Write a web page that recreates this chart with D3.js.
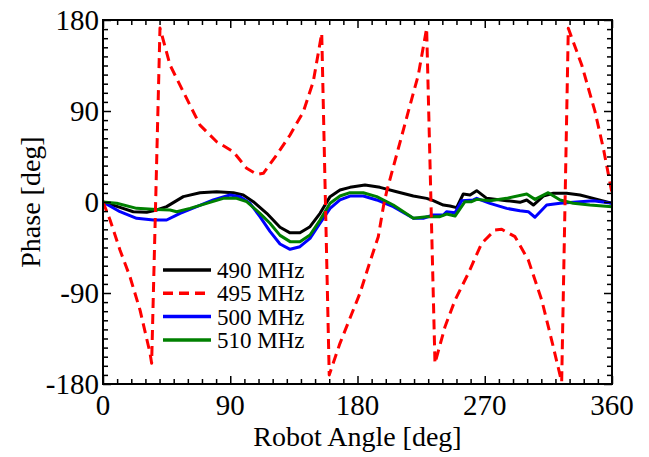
<!DOCTYPE html>
<html>
<head>
<meta charset="utf-8">
<script src="https://cdn.jsdelivr.net/npm/d3@7"></script>
<style>
  body { margin: 0; background: #fff; }
  svg { display: block; }
</style>
</head>
<body>
<div id="chart"></div>
<script>
// [angle, phase] pairs
const data490 = [[0,0],[12,-5.3],[21.4,-9.6],[30.9,-10.2],[37.9,-7.9],[45,-4.6],[56.8,5.3],[68.6,9.2],[80.4,10.2],[92.2,9.2],[99.2,6.9],[106.3,0.3],[115.8,-11.2],[125.2,-25],[132.3,-30.5],[139.3,-30.5],[146.4,-24.4],[153.5,-11.2],[160.6,5.3],[167.6,11.9],[174.7,14.5],[185.3,16.8],[195.9,14.5],[207.7,10.2],[219.5,5.9],[228.9,3.6],[233.6,1.3],[240.7,-3],[245.4,-4],[250.1,-5.6],[254.8,7.9],[259.6,6.9],[264.3,11.2],[271.4,3.6],[285.5,1.3],[294.9,-0.3],[299.7,2],[304.4,-3],[311.4,5.9],[318.5,8.6],[327.9,8.6],[337.4,6.9],[346.8,3.6],[360,-1.3]];
const data495 = [[0,0],[5,-17.8],[12,-47.5],[19.1,-74],[26.2,-107],[33.2,-149],[34.4,-159.5],[40.3,172],[47.4,135.5],[56.8,109],[68.6,76],[80.4,59.6],[92.2,49.7],[101.6,33.3],[108.7,27.4],[113.4,28.4],[122.8,46.5],[132.3,66.3],[141.7,89.3],[148.7,119],[154.7,166.8],[160,-171],[167.6,-139.8],[177,-106.8],[181.8,-90],[187.7,-64],[194.7,-34.3],[198.3,-4.6],[200.6,10.2],[208.9,53],[215.9,89.3],[223,125.6],[228.9,171.8],[234.8,-159.5],[241.9,-123.3],[249,-97],[258.4,-70.5],[267.8,-40.9],[277.2,-27.7],[282,-27],[291.4,-34.3],[300.8,-57.4],[310.3,-97],[317.3,-136.5],[324.4,-178],[329.1,171.8],[338.6,135.5],[348,89.3],[353.9,53],[359.8,10.2]];
const data500 = [[0,0],[12,-9.6],[23.8,-16.1],[35.6,-17.8],[45,-17.8],[54.5,-11.2],[66.3,-4.6],[78,2],[89.8,6.9],[96.9,5.2],[104,-1.3],[111,-14.5],[118.1,-29],[125.2,-41.5],[132.3,-46.8],[139.3,-44.2],[146.4,-36],[153.5,-21],[160.6,-6.3],[167.6,2],[174.7,5.9],[184.1,5.9],[193.6,2],[205.3,-4.6],[219.5,-16.1],[226.5,-16.1],[233.6,-12.9],[240.7,-12.9],[243,-9.6],[249,-10.6],[253.7,1.3],[261.9,2],[264.3,3.6],[273.7,-1.3],[285.5,-6.3],[294.9,-8.6],[300.8,-9.6],[305.5,-15.1],[313.8,-3],[323.3,-1.3],[337.4,0.3],[346.8,1.3],[360,-1.3]];
const data510 = [[0,0],[9.7,-1.3],[23.8,-6.3],[37.9,-7.3],[47.4,-7.9],[52.1,-9.6],[61.5,-6.3],[73.3,-1.3],[85.1,3.6],[94.5,3.6],[101.6,0.3],[111,-11.2],[118.1,-21],[125.2,-33],[132.3,-39.2],[139.3,-39.2],[146.4,-32.6],[153.5,-17.8],[160.6,-1.3],[167.6,5.9],[174.7,9.2],[184.1,9.2],[193.6,5.3],[205.3,-3],[219.5,-16.1],[228.9,-14.5],[238.3,-14.5],[243,-11.9],[249,-13.9],[256,0.3],[260.7,0.3],[264.3,2.6],[273.7,1.3],[285.5,3.6],[299.7,7.9],[305.5,2.6],[314.9,9.2],[323.3,2],[332.6,-1.3],[344.4,-3],[360,-4.6]];

const seriesNames = ["490 MHz", "495 MHz", "500 MHz", "510 MHz"];
const seriesColors = ["#000000", "#ff0000", "#0000ff", "#008000"];
const xTicks = [0, 90, 180, 270, 360];
const yTicks = [-180, -90, 0, 90, 180];

const width = 649, height = 457;
const margin = {top: 20, right: 37, bottom: 73, left: 103};
const font = "'Liberation Serif', 'Times New Roman', serif";

const svg = d3.select("#chart").append("svg")
  .attr("width", width).attr("height", height)
  .style("background", "#fff");

const x = d3.scaleLinear().domain([0, 360]).range([margin.left, width - margin.right]);
const y = d3.scaleLinear().domain([-180, 180]).range([height - margin.bottom, margin.top]);

const clip = svg.append("clipPath").attr("id", "plotclip").append("rect")
  .attr("x", x(0)).attr("y", y(180) - 2)
  .attr("width", x(360) - x(0)).attr("height", y(-180) - y(180) + 4);

const line = d3.line().x(d => x(d[0])).y(d => y(d[1]));

const allData = [data490, data495, data500, data510];
const plot = svg.append("g").attr("clip-path", "url(#plotclip)");
// draw order: red dashed first? reference shows red over others at crossings
[0, 2, 3, 1].forEach(i => {
  plot.append("path")
    .datum(allData[i])
    .attr("fill", "none")
    .attr("stroke", seriesColors[i])
    .attr("stroke-width", 3)
    .attr("stroke-linejoin", "round")
    .attr("stroke-dasharray", i === 1 ? "10,6" : null)
    .attr("d", line);
});

// axes: ticks pointing inward on all four sides
const xMinor = d3.range(0, 361, 10).filter(v => v % 90 !== 0);
const yMinor = d3.range(-180, 181, 9).filter(v => v % 90 !== 0);
const axisColor = "#000";

function tickAxis(axisFn, scale, ticks, size, pos) {
  return svg.append("g")
    .attr("transform", pos)
    .call(axisFn(scale).tickValues(ticks).tickSize(-size).tickFormat(""))
    .call(g => g.select(".domain").remove())
    .call(g => g.selectAll(".tick line").attr("stroke", axisColor).attr("stroke-width", 1.5));
}
const bottomY = y(-180), topY = y(180), leftX = x(0), rightX = x(360);
tickAxis(d3.axisBottom, x, xTicks, 8, `translate(0,${bottomY})`);
tickAxis(d3.axisBottom, x, xMinor, 5, `translate(0,${bottomY})`);
tickAxis(d3.axisTop, x, xTicks, 8, `translate(0,${topY})`);
tickAxis(d3.axisTop, x, xMinor, 5, `translate(0,${topY})`);
tickAxis(d3.axisLeft, y, yTicks, 8, `translate(${leftX},0)`);
tickAxis(d3.axisLeft, y, yMinor, 5, `translate(${leftX},0)`);
tickAxis(d3.axisRight, y, yTicks, 8, `translate(${rightX},0)`);
tickAxis(d3.axisRight, y, yMinor, 5, `translate(${rightX},0)`);

svg.append("rect")
  .attr("x", leftX).attr("y", topY)
  .attr("width", rightX - leftX).attr("height", bottomY - topY)
  .attr("fill", "none").attr("stroke", axisColor).attr("stroke-width", 2);

// tick labels
svg.append("g").selectAll("text").data(xTicks).join("text")
  .attr("x", d => x(d)).attr("y", bottomY + 31)
  .attr("text-anchor", "middle")
  .attr("font-family", font).attr("font-size", 29)
  .text(d => d);
svg.append("g").selectAll("text").data(yTicks).join("text")
  .attr("x", leftX - 4).attr("y", d => y(d) + 10)
  .attr("text-anchor", "end")
  .attr("font-family", font).attr("font-size", 29)
  .text(d => String(d).replace("\u2212", "-"));

// axis titles
svg.append("text")
  .attr("x", (leftX + rightX) / 2).attr("y", 446)
  .attr("text-anchor", "middle")
  .attr("font-family", font).attr("font-size", 28)
  .text("Robot Angle [deg]");
svg.append("text")
  .attr("transform", `translate(40,${(topY + bottomY) / 2}) rotate(-90)`)
  .attr("text-anchor", "middle")
  .attr("font-family", font).attr("font-size", 28)
  .text("Phase [deg]");

// legend
const legend = svg.append("g");
seriesNames.forEach((name, i) => {
  const ly = 270 + i * 23.3;
  legend.append("line")
    .attr("x1", 163).attr("x2", 211).attr("y1", ly).attr("y2", ly)
    .attr("stroke", seriesColors[i]).attr("stroke-width", 3.5)
    .attr("stroke-dasharray", i === 1 ? "10,6" : null);
  legend.append("text")
    .attr("x", 217).attr("y", ly + 8)
    .attr("font-family", font).attr("font-size", 23)
    .text(name);
});
</script>
</body>
</html>
